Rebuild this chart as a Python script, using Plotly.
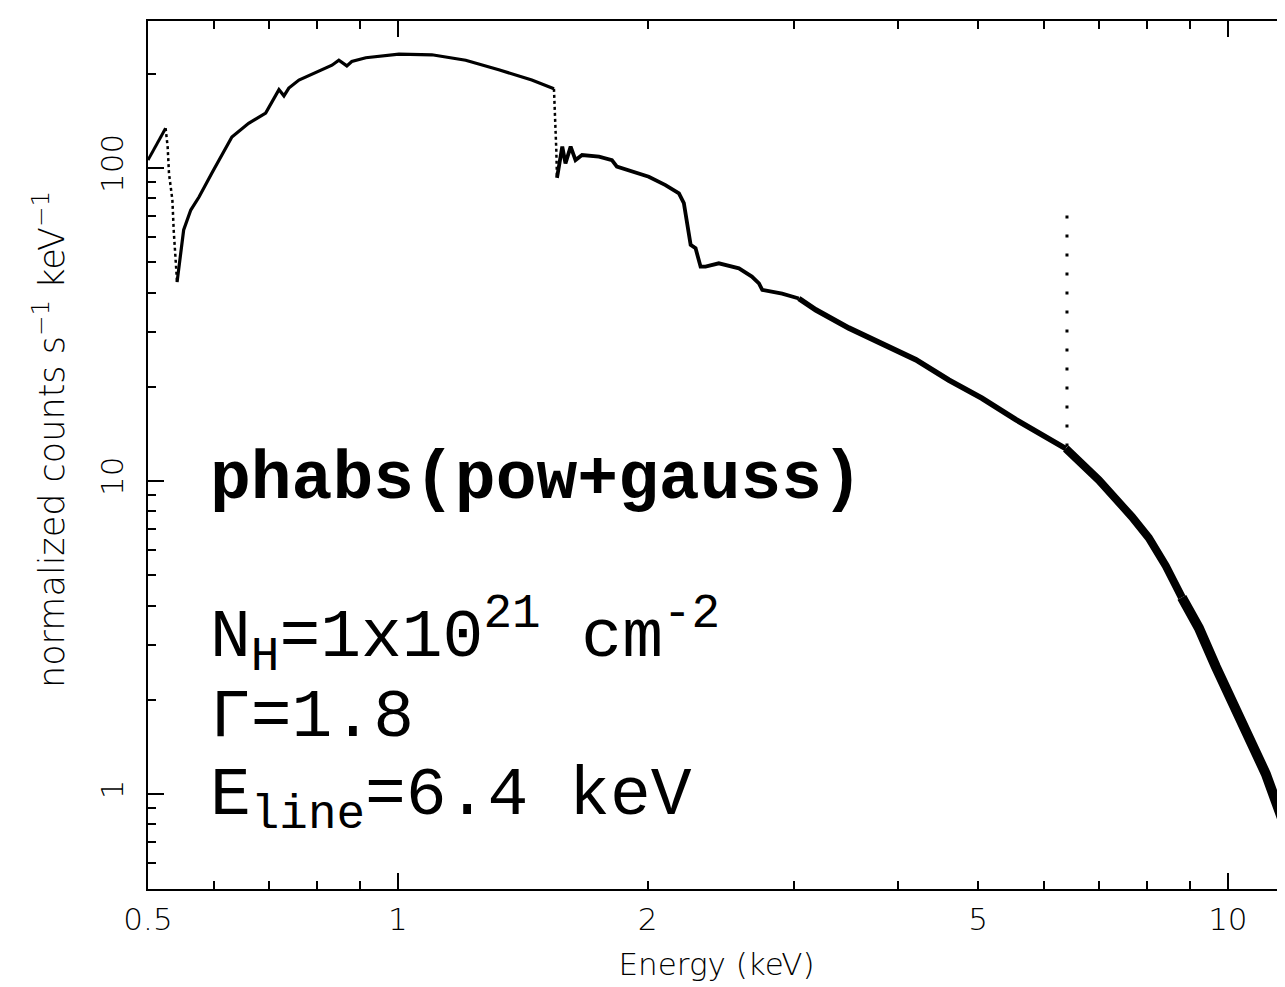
import math
import plotly.graph_objects as go

# ---- data (energy in keV, normalized counts s^-1 keV^-1) ----
segA_E = [0.500, 0.512, 0.525]
segA_y = [106, 119, 134]

dropA_E = [0.525, 0.528, 0.530, 0.535, 0.537, 0.540, 0.542]
dropA_y = [134, 117, 96, 79, 63, 51, 43.2]

segB_E = [0.542, 0.547, 0.552, 0.563, 0.576, 0.597, 0.631, 0.661, 0.693, 0.719, 0.729,
          0.739, 0.760, 0.833, 0.849, 0.868, 0.880, 0.915, 1.003, 1.099, 1.207, 1.323,
          1.450, 1.542]
segB_y = [43.2, 53.5, 63.4, 73.4, 80.8, 96.4, 125.6, 138.9, 149.8, 178, 170,
          180, 191, 213, 221, 212, 219, 225, 231, 230, 221, 206,
          191, 179]

dropB_E = [1.542, 1.548, 1.552, 1.555]
dropB_y = [179, 142, 114, 93]

segC_E = [1.555, 1.578, 1.592, 1.615, 1.637, 1.667, 1.747, 1.811, 1.836, 2.006, 2.101,
          2.181, 2.211, 2.232, 2.253, 2.284, 2.316, 2.348, 2.436, 2.576, 2.670, 2.723,
          2.748, 2.904, 3.042]
segC_y = [93, 117, 103.5, 117, 106, 110, 108.7, 106, 101, 93.8, 88.2,
          83.0, 77.2, 65.0, 56.8, 55.4, 48.4, 48.4, 49.6, 47.8, 45.0, 42.8,
          40.8, 39.7, 38.3]

segD_E = [3.042, 3.189, 3.494, 3.830, 4.208, 4.612, 5.053, 5.554, 6.085, 6.379]
segD_y = [38.3, 35.2, 30.8, 27.6, 24.4, 21.0, 18.4, 15.7, 13.7, 12.7]

segE_E = [6.379, 6.672, 6.991, 7.661, 8.031, 8.419, 8.802]
segE_y = [12.7, 11.25, 10.07, 7.69, 6.58, 5.35, 4.25]

segF_E = [8.802, 9.228, 9.672, 10.11, 10.60, 11.11, 11.65]
segF_y = [4.25, 3.39, 2.55, 1.97, 1.49, 1.16, 0.82]

line_E = [6.40, 6.40]
line_y = [12.9, 78]

x_tickvals = [0.5, 1, 2, 5, 10]
x_ticktext = ["0.5", "1", "2", "5", "10"]
x_minor = [0.6, 0.7, 0.8, 0.9, 2, 3, 4, 5, 6, 7, 8, 9]
y_tickvals = [1, 10, 100]
y_ticktext = ["1", "10", "100"]
y_minor = [0.6, 0.7, 0.8, 0.9, 2, 3, 4, 5, 6, 7, 8, 9, 20, 30, 40, 50, 60, 70, 80, 90, 200]

x_title = "Energy (keV)"
y_title = "normalized counts s<sup>\u22121</sup> keV<sup>\u22121</sup>"

# ---- figure geometry (page has an 8px body margin) ----
OFF = 8
W, H = 1285 - OFF, 987 - OFF
L, T = 148 - OFF, 21 - OFF
R = 0
B = H - (889 - OFF)
plotW, plotH = W - L - R, H - T - B
x_range = [math.log10(0.5), math.log10(0.5) + plotW / 830.0]
y_range = [-0.3035, -0.3035 + plotH / 313.0]

fig = go.Figure()

def add(xs, ys, width, dash="solid"):
    fig.add_trace(go.Scatter(x=xs, y=ys, mode="lines",
                             line=dict(color="black", width=width, dash=dash),
                             showlegend=False, hoverinfo="skip"))

add(segA_E, segA_y, 3)
add(dropA_E, dropA_y, 2.5, "3px,3px")
add(segB_E, segB_y, 3.2)
add(dropB_E, dropB_y, 2.5, "3px,3px")
add(segC_E, segC_y, 3.8)
add(segD_E, segD_y, 5.5)
add(segE_E, segE_y, 8)
add(segF_E, segF_y, 10)
add(line_E, line_y, 3, "3px,16px")

tickfont = dict(family="DejaVu Sans", size=31, color="black", weight=200)
xtitlefont = dict(family="DejaVu Sans", size=31, color="black", weight=200)
ytitlefont = dict(family="DejaVu Sans", size=35, color="black", weight=200)

fig.update_layout(
    width=W, height=H,
    margin=dict(l=L, r=R, t=T, b=B, autoexpand=False),
    paper_bgcolor="white", plot_bgcolor="white",
    xaxis=dict(type="log", range=x_range, showgrid=False, zeroline=False,
               showline=True, linecolor="black", linewidth=2, mirror="ticks",
               ticks="inside", ticklen=16, tickwidth=2, tickcolor="black",
               tickvals=[1, 10], showticklabels=False,
               minor=dict(tickvals=x_minor, ticks="inside", ticklen=8, tickwidth=2,
                          tickcolor="black", showgrid=False)),
    xaxis2=dict(type="log", range=x_range, overlaying="x", anchor="y", side="bottom",
                showgrid=False, zeroline=False, showline=False, ticks="",
                tickvals=x_tickvals, ticktext=x_ticktext, tickfont=tickfont,
                ticklabelstandoff=9,
                title=dict(text=x_title, font=xtitlefont, standoff=17)),
    yaxis=dict(type="log", range=y_range, showgrid=False, zeroline=False,
               showline=True, linecolor="black", linewidth=2, mirror=False,
               ticks="inside", ticklen=16, tickwidth=2, tickcolor="black",
               tickvals=y_tickvals, ticktext=y_ticktext, tickangle=-90,
               tickfont=tickfont, ticklabelstandoff=11,
               minor=dict(tickvals=y_minor, ticks="inside", ticklen=8, tickwidth=2,
                          tickcolor="black", showgrid=False)),
    yaxis2=dict(type="log", range=y_range, overlaying="y", anchor="x", side="right",
                showgrid=False, zeroline=False, showline=False,
                ticks="inside", ticklen=8, tickwidth=2, tickcolor="black",
                tickvals=y_tickvals, showticklabels=False),
)

# invisible traces that activate the overlay axes
fig.add_trace(go.Scatter(x=[1], y=[1], xaxis="x2", yaxis="y", mode="markers",
                         marker=dict(opacity=0), showlegend=False, hoverinfo="skip"))
fig.add_trace(go.Scatter(x=[1], y=[1], xaxis="x", yaxis="y2", mode="markers",
                         marker=dict(opacity=0), showlegend=False, hoverinfo="skip"))

# page-pixel -> paper coordinates
def px_x(px):
    return (px - OFF - L) / plotW

def px_y(py):
    return (H - B - (py - OFF)) / plotH

# y-axis title
fig.add_annotation(text=y_title, xref="paper", yref="paper", textangle=-90,
                   x=px_x(49), y=px_y(440), xanchor="center", yanchor="middle",
                   showarrow=False, font=ytitlefont)

mono = "Liberation Mono, Courier New, monospace"
fsize = 68
fig.add_annotation(text="<b>phabs(pow+gauss)</b>", xref="paper", yref="paper",
                   x=px_x(208), y=px_y(479), xanchor="left", yanchor="middle",
                   showarrow=False, font=dict(family=mono, size=fsize, color="black"))
lines = [
    ("N<sub>H</sub>=1x10<sup>21</sup> cm<sup>-2</sup>", 635),
    ("\u0393=1.8", 717),
    ("E<sub>line</sub>=6.4 keV", 799),
]
for txt, cy in lines:
    fig.add_annotation(text=txt, xref="paper", yref="paper",
                       x=px_x(208), y=px_y(cy), xanchor="left", yanchor="middle",
                       showarrow=False, font=dict(family=mono, size=fsize, color="black"))

fig.write_html("out.html")
